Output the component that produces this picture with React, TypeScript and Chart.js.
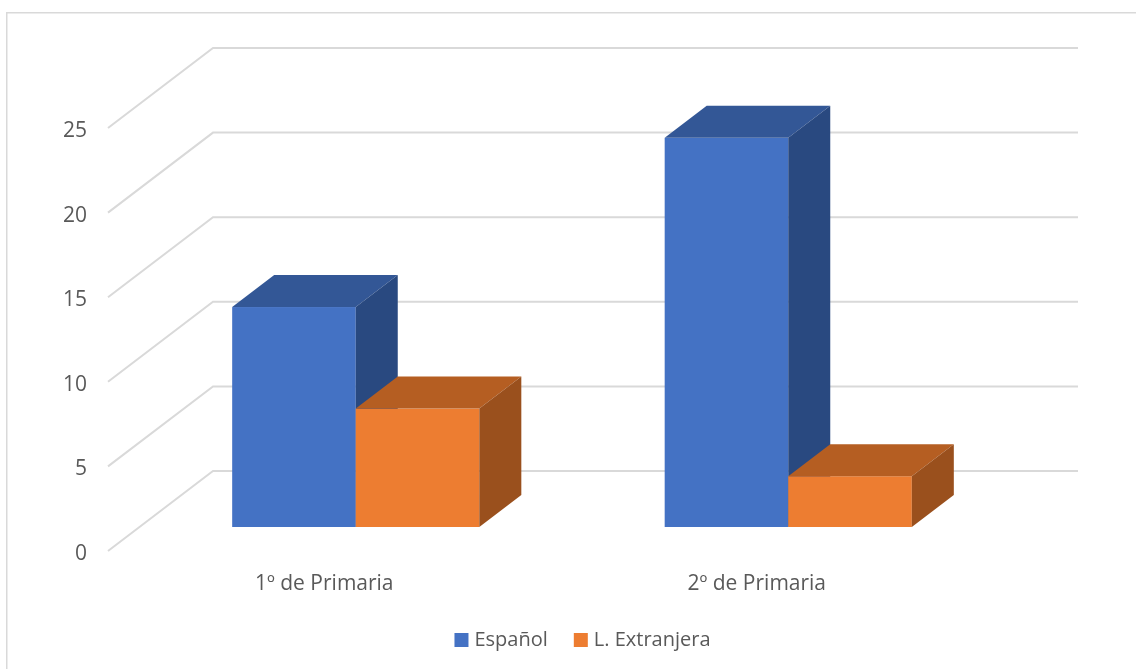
import React, { useEffect, useRef } from "react";
import { Chart, registerables } from "chart.js";

Chart.register(...registerables);

// ---- data ----
const categories = ["1º de Primaria", "2º de Primaria"];
const seriesNames = ["Español", "L. Extranjera"];
const espanolValues = [13, 23];
const extranjeraValues = [7, 3];
const yMin = 0;
const yMax = 25;
const yStep = 5;

// ---- styles ----
const frontColors = ["#4472C4", "#ED7D31"];
const topColors = ["#335796", "#B55E22"];
const sideColors = ["#294980", "#9A501D"];
const gridColor = "#D9D9D9";
const textColor = "#595959";
const FONT = "'Open Sans', sans-serif";

// 3D geometry (oblique projection)
const WALL_DX = 105;
const WALL_DY = -80;
const BAR_START = 0.3;
const BAR_DEPTH = 0.4;

const threeDPlugin = {
  id: "threeD",
  beforeDraw(chart: any) {
    const { ctx, chartArea } = chart;
    ctx.save();
    // outer border
    ctx.strokeStyle = gridColor;
    ctx.lineWidth = 1.5;
    ctx.strokeRect(6.75, 12.75, 3000, 3000);
    // back wall gridlines + side diagonals
    const yScale = chart.scales.y;
    ctx.lineWidth = 2;
    ctx.strokeStyle = gridColor;
    yScale.ticks.forEach((t: any) => {
      const y = yScale.getPixelForValue(t.value);
      ctx.beginPath();
      ctx.moveTo(chartArea.left, y);
      ctx.lineTo(chartArea.left + WALL_DX, y + WALL_DY);
      ctx.lineTo(chartArea.right + WALL_DX, y + WALL_DY);
      ctx.stroke();
    });
    ctx.restore();
  },
  beforeDatasetsDraw(chart: any) {
    const { ctx } = chart;
    const ox = WALL_DX * BAR_START;
    const oy = WALL_DY * BAR_START;
    const dx = WALL_DX * BAR_DEPTH;
    const dy = WALL_DY * BAR_DEPTH;
    const metas = chart.data.datasets.map((_: any, i: number) => chart.getDatasetMeta(i));
    ctx.save();
    for (let c = 0; c < categories.length; c++) {
      metas.forEach((meta: any, si: number) => {
        const el = meta.data[c];
        if (!el) return;
        const x0 = el.x - el.width / 2 + ox;
        const x1 = el.x + el.width / 2 + ox;
        const yt = el.y + oy;
        const yb = el.base + oy;
        // front
        ctx.fillStyle = frontColors[si];
        ctx.fillRect(x0, yt, x1 - x0, yb - yt);
        // top
        ctx.fillStyle = topColors[si];
        ctx.beginPath();
        ctx.moveTo(x0, yt);
        ctx.lineTo(x0 + dx, yt + dy);
        ctx.lineTo(x1 + dx, yt + dy);
        ctx.lineTo(x1, yt);
        ctx.closePath();
        ctx.fill();
        // side
        ctx.fillStyle = sideColors[si];
        ctx.beginPath();
        ctx.moveTo(x1, yt);
        ctx.lineTo(x1 + dx, yt + dy);
        ctx.lineTo(x1 + dx, yb + dy);
        ctx.lineTo(x1, yb);
        ctx.closePath();
        ctx.fill();
      });
    }
    ctx.restore();
    return false;
  },
  afterDraw(chart: any) {
    const { ctx } = chart;
    ctx.save();
    ctx.font = `20px ${FONT}`;
    ctx.textBaseline = "middle";
    ctx.textAlign = "left";
    const box = 14;
    const gap = 6;
    const itemGap = 26;
    const items = chart.data.datasets.map((ds: any) => ({
      label: ds.label,
      color: ds.backgroundColor,
      w: ctx.measureText(ds.label).width,
    }));
    const total =
      items.reduce((s: number, it: any) => s + box + gap + it.w, 0) + itemGap * (items.length - 1);
    let x = 582.5 - total / 2;
    const cy = 640;
    items.forEach((it: any) => {
      ctx.fillStyle = it.color;
      ctx.fillRect(x, cy - box / 2, box, box);
      ctx.fillStyle = textColor;
      ctx.fillText(it.label, x + box + gap, cy);
      x += box + gap + it.w + itemGap;
    });
    ctx.restore();
  },
};

export default function App() {
  const canvasRef = useRef<HTMLCanvasElement | null>(null);

  useEffect(() => {
    if (!canvasRef.current) return;
    const chart = new Chart(canvasRef.current, {
      type: "bar",
      data: {
        labels: categories,
        datasets: [
          { label: seriesNames[0], data: espanolValues, backgroundColor: frontColors[0] },
          { label: seriesNames[1], data: extranjeraValues, backgroundColor: frontColors[1] },
        ],
      },
      options: {
        animation: false,
        responsive: true,
        maintainAspectRatio: false,
        layout: { padding: { left: 0, top: 128, right: 163, bottom: 0 } },
        datasets: {
          bar: { categoryPercentage: 1 / 1.75, barPercentage: 1 },
        } as any,
        plugins: {
          legend: { display: false },
          tooltip: { enabled: false },
        },
        scales: {
          x: {
            grid: { display: false, drawTicks: false },
            border: { display: false },
            ticks: { color: textColor, font: { family: FONT, size: 21 }, padding: 20 },
            afterFit: (axis: any) => {
              axis.height = 118;
            },
          },
          y: {
            min: yMin,
            max: yMax,
            grid: { display: false, drawTicks: false },
            border: { display: false },
            ticks: {
              stepSize: yStep,
              color: textColor,
              font: { family: FONT, size: 21 },
              padding: 21,
              labelOffset: 3,
            },
            afterFit: (axis: any) => {
              axis.width = 108;
            },
          },
        },
      },
      plugins: [threeDPlugin],
    });
    return () => chart.destroy();
  }, []);

  return (
    <div style={{ position: "fixed", left: 0, top: 0, width: 1136, height: 669, background: "#fff" }}>
      <canvas ref={canvasRef} />
    </div>
  );
}
